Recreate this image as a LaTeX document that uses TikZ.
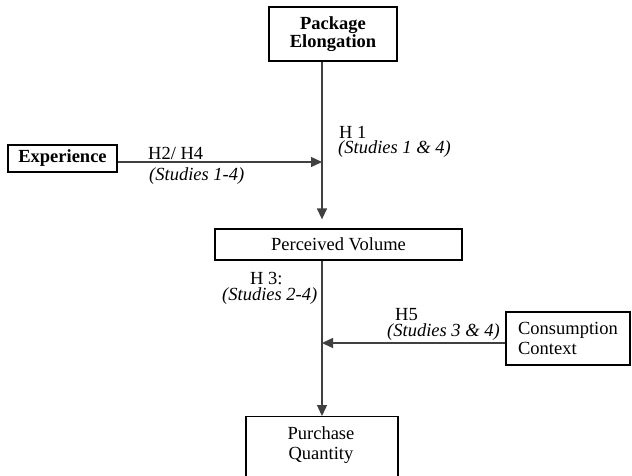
\documentclass[tikz,border=0pt]{standalone}
\usepackage{fontspec}
\setmainfont{Liberation Serif}
\usetikzlibrary{arrows.meta}
\begin{document}
\begin{tikzpicture}[x=1pt,y=-1pt,
  box/.style={draw=black, line width=1.3pt, inner sep=0pt},
  conn/.style={draw=black!75, line width=1.3pt},
  arr/.style={conn, -{Triangle[length=11pt,width=10pt]}},
  txt/.style={font=\fontsize{18.5}{18.5}\selectfont, inner sep=0pt},
  bold/.style={font=\fontsize{18.5}{18}\selectfont\bfseries, inner sep=0pt},
  ital/.style={font=\fontsize{18.5}{18.5}\selectfont\itshape},
  lbl/.style={txt, anchor=base west},
]
\useasboundingbox (0,0) rectangle (632,475);
\clip (0,0) rectangle (632,475);

% boxes
\node[box, bold, align=center, minimum width=128pt, minimum height=54pt] (pe) at (333,34) {Package\\Elongation};
\node[box, bold, minimum width=109pt, minimum height=27pt] (exp) at (62.5,158.5) {Experience};
\node[box, txt, minimum width=247pt, minimum height=31pt] (pv) at (338.5,244.5) {Perceived Volume};
\node[box, minimum width=152pt, minimum height=120pt, anchor=north] (pq) at (322,416) {};
\node[txt, align=center, font=\fontsize{18.5}{20}\selectfont] (pqt) at (321,445) {Purchase\\Quantity};
\node[box, txt, align=left, font=\fontsize{18.5}{20}\selectfont, minimum width=124pt, minimum height=53pt] (cc) at (568,338.5) {Consumption\\Context};

% connectors
\coordinate (spine) at (322,0);
\coordinate (h2y) at (0,162);
\coordinate (h5y) at (0,343);
\draw[arr, shorten >=9pt] (pe.south -| spine) -- (pv.north -| spine);
\draw[arr] (pv.south -| spine) -- (pq.north);
\draw[arr] (exp.east |- h2y) -- (spine |- h2y);
\draw[arr] (cc.west |- h5y) -- (spine |- h5y);

% labels
\node[lbl] (h24) at (148,159) {H2/ H4};
\node[lbl, ital] (s14) at (149,180) {(Studies 1-4)};
\node[lbl] (h1) at (339,138) {H 1};
\node[lbl, ital] (s1and4) at (338,153.5) {(Studies 1 \& 4)};
\node[lbl] (h3) at (250,284.5) {H 3:};
\node[lbl, ital] (s24) at (222,300) {(Studies 2-4)};
\node[lbl] (h5) at (395,320.5) {H5};
\node[lbl, ital] (s34) at (387,336) {(Studies 3 \& 4)};
\end{tikzpicture}
\end{document}
